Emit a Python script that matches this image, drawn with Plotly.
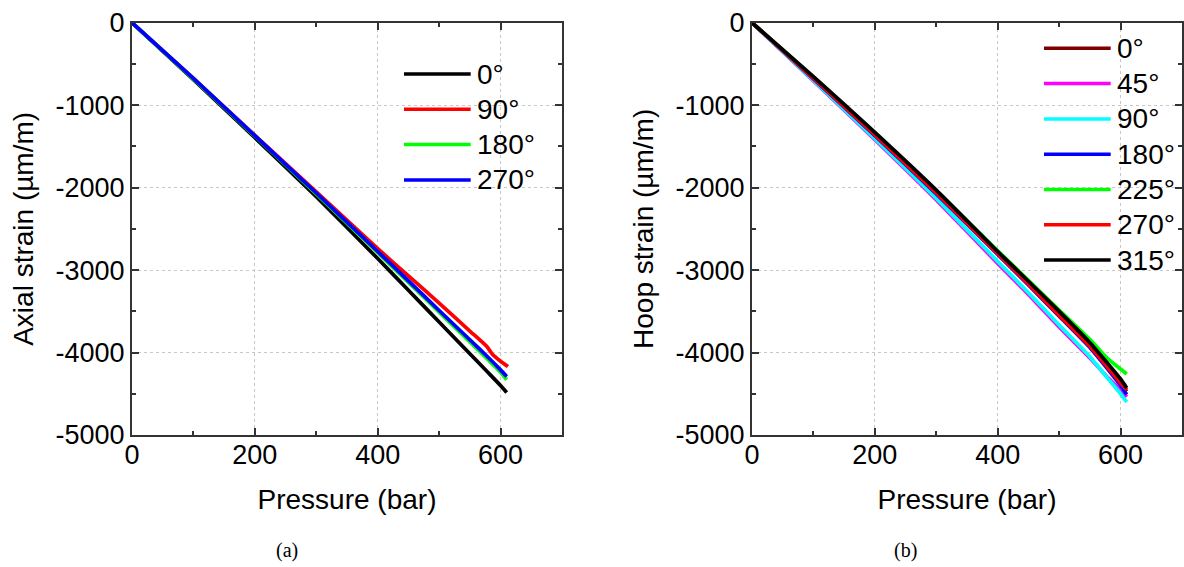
import plotly.graph_objects as go

pressure = [0, 100, 200, 300, 400, 450, 500, 550, 580, 600, 610]
pressure_red_a = [0, 100, 200, 300, 400, 450, 500, 550, 578, 587, 600, 612]

# (a) Axial strain (µm/m)
axial_labels = ["0°", "90°", "180°", "270°"]
axial_0 = [0, -690, -1395, -2110, -2860, -3245, -3630, -4015, -4245, -4400, -4485]
axial_90 = [0, -675, -1365, -2050, -2740, -3070, -3400, -3740, -3930, -4025, -4105, -4170]
axial_180 = [0, -680, -1375, -2075, -2790, -3150, -3510, -3870, -4090, -4240, -4330]
axial_270 = [0, -675, -1370, -2065, -2775, -3130, -3490, -3845, -4060, -4210, -4290]
axial_colors = ["#000000", "#FF0000", "#00FF00", "#0000FF"]

# (b) Hoop strain (µm/m)
hoop_labels = ["0°", "45°", "90°", "180°", "225°", "270°", "315°"]
hoop_0 = [0, -670, -1355, -2060, -2790, -3160, -3530, -3910, -4175, -4370, -4470]
hoop_45 = [0, -705, -1420, -2150, -2920, -3295, -3690, -4065, -4310, -4455, -4540]
hoop_90 = [0, -700, -1405, -2130, -2895, -3275, -3665, -4050, -4320, -4500, -4600]
hoop_180 = [0, -680, -1370, -2075, -2810, -3180, -3560, -3940, -4210, -4400, -4510]
hoop_225 = [0, -660, -1335, -2035, -2765, -3125, -3485, -3840, -4080, -4200, -4260]
hoop_270 = [0, -675, -1360, -2065, -2800, -3170, -3550, -3925, -4190, -4370, -4450]
hoop_315 = [0, -655, -1330, -2030, -2775, -3135, -3500, -3880, -4140, -4320, -4430]
hoop_colors = ["#800000", "#FF00FF", "#00FFFF", "#0000FF", "#00FF00", "#FF0000", "#000000"]

FONT = "Liberation Sans, Arial, sans-serif"
SERIF = "Liberation Serif, Times New Roman, serif"
W, H = 1184, 567

fig = go.Figure()

axial_series = [axial_0, axial_90, axial_180, axial_270]
for lab, ys, c in zip(axial_labels, axial_series, axial_colors):
    xs = pressure_red_a if lab == "90°" else pressure
    fig.add_trace(go.Scatter(x=xs, y=ys, mode="lines", name=lab, showlegend=False,
                             line=dict(color=c, width=3.7, shape="spline", smoothing=0.5),
                             xaxis="x", yaxis="y"))

hoop_series = [hoop_0, hoop_45, hoop_90, hoop_180, hoop_225, hoop_270, hoop_315]
for lab, ys, c in zip(hoop_labels, hoop_series, hoop_colors):
    fig.add_trace(go.Scatter(x=pressure, y=ys, mode="lines", name=lab, showlegend=False,
                             line=dict(color=c, width=3.7, shape="spline", smoothing=0.5),
                             xaxis="x2", yaxis="y2"))

ytop = 1 - 22.7 / H
ybot = 1 - 435 / H

minor_common = dict(ticks="inside", ticklen=4, tickwidth=1.5, tickcolor="#333333", showgrid=False)
axis_common = dict(
    showline=True, linecolor="#333333", linewidth=2, mirror="ticks",
    ticks="inside", ticklen=7, tickwidth=1.5, tickcolor="#333333",
    showgrid=True, gridcolor="#c8c8c8", gridwidth=1, griddash="3px,3px",
    zeroline=False, automargin=False,
    tickfont=dict(family=FONT, size=27, color="black"),
)

xaxis_common = dict(axis_common, range=[0, 700], tickvals=[0, 200, 400, 600],
                    ticktext=["0", "200", "400", "600"], ticklabelstandoff=-5,
                    minor=dict(minor_common, tickvals=[100, 300, 500]),
                    title=dict(text="Pressure (bar)", font=dict(family=FONT, size=28, color="black"), standoff=20))
yaxis_common = dict(axis_common, range=[-5000, 0], tickvals=[0, -1000, -2000, -3000, -4000, -5000],
                    ticktext=["0", "-1000", "-2000", "-3000", "-4000", "-5000"], ticklabelstandoff=0,
                    minor=dict(minor_common, tickvals=[-500, -1500, -2500, -3500, -4500]))

fig.update_layout(
    width=W, height=H,
    margin=dict(l=0, r=0, t=0, b=0, autoexpand=False),
    paper_bgcolor="white", plot_bgcolor="white",
    font=dict(family=FONT, size=27, color="black"),
    xaxis=dict(xaxis_common, domain=[132 / W, 562 / W], anchor="y"),
    yaxis=dict(yaxis_common, domain=[ybot, ytop], anchor="x",
               title=dict(text="Axial strain (µm/m)", font=dict(family=FONT, size=28, color="black"), standoff=14)),
    xaxis2=dict(xaxis_common, domain=[752 / W, 1182 / W], anchor="y2"),
    yaxis2=dict(yaxis_common, domain=[ybot, ytop], anchor="x2",
                title=dict(text="Hoop strain (µm/m)", font=dict(family=FONT, size=28, color="black"), standoff=14)),
    showlegend=False,
)

# Legends (keys drawn as short line samples with labels)
def add_legend(labels, colors, x0, x1, xtext, ytop_px, step):
    for i, (lab, c) in enumerate(zip(labels, colors)):
        ypx = ytop_px + i * step
        fig.add_shape(type="line", xref="paper", yref="paper",
                      x0=x0 / W, x1=x1 / W, y0=1 - ypx / H, y1=1 - ypx / H,
                      line=dict(color=c, width=3.5))
        fig.add_annotation(text=lab, xref="paper", yref="paper", x=xtext / W, y=1 - ypx / H,
                           xanchor="left", yanchor="middle", showarrow=False,
                           font=dict(family=FONT, size=28, color="black"))

add_legend(axial_labels, axial_colors, 404, 470.7, 475, 74, 35.3)
add_legend(hoop_labels, hoop_colors, 1044, 1110.7, 1115, 48.3, 35.3)

fig.add_annotation(text="(a)", x=287 / W, y=1 - 550 / H, xref="paper", yref="paper",
                   xanchor="center", yanchor="middle",
                   showarrow=False, font=dict(family=SERIF, size=20, color="black"))
fig.add_annotation(text="(b)", x=905 / W, y=1 - 550 / H, xref="paper", yref="paper",
                   xanchor="center", yanchor="middle",
                   showarrow=False, font=dict(family=SERIF, size=20, color="black"))

fig.write_html("out.html", config={"displayModeBar": False},
               post_script="document.body.style.margin='0px';document.body.style.overflow='hidden';")
